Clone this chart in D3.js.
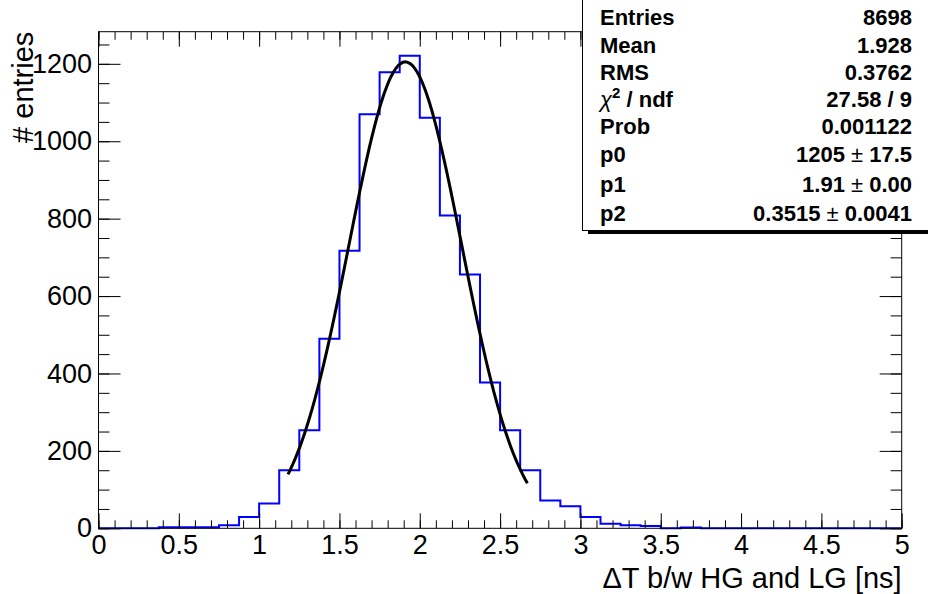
<!DOCTYPE html>
<html>
<head>
<meta charset="utf-8">
<script src="https://cdn.jsdelivr.net/npm/d3@7"></script>
<style>
body { margin: 0; background: #fff; }
svg { display: block; }
text { font-family: "Liberation Sans", Arial, Helvetica, sans-serif; }
</style>
</head>
<body>
<div id="chart"></div>
<script>

// histogram: 40 bins of 0.125 ns between 0 and 5
var binLow = 0, binWidth = 0.125;
var counts = [0, 0, 0, 3, 3, 3, 8, 29, 64, 150,
              253, 490, 717, 1070, 1178, 1221, 1061, 808, 656, 377,
              253, 150, 72, 57, 29, 12, 8, 6, 0, 2,
              0, 0, 0, 0, 0, 0, 0, 0, 0, 0];

// gaussian fit, parameters as printed in the stats box
var fitP0 = 1205, fitP1 = 1.91, fitP2 = 0.3515;
var fitRange = [1.18, 2.67];

// tick labels
var xTicks = [0, 0.5, 1, 1.5, 2, 2.5, 3, 3.5, 4, 4.5, 5];
var yTicks = [0, 200, 400, 600, 800, 1000, 1200];

// stats box
var statLabels = ["Entries", "Mean", "RMS", "chi2", "Prob", "p0", "p1", "p2"];
var statValues = ["8698", "1.928", "0.3762", "27.58 / 9", "0.001122", "1205 ± 17.5", "1.91 ± 0.00", "0.3515 ± 0.0041"];

var width = 928, height = 594;
var frame = {left: 98.5, right: 901.7, top: 31.7, bottom: 528.3};

var svg = d3.select("#chart").append("svg")
    .attr("width", width)
    .attr("height", height);

var x = d3.scaleLinear().domain([0, 5]).range([frame.left, frame.right]);
var y = d3.scaleLinear().domain([0, 1283]).range([frame.bottom, frame.top]);

// histogram outline
var step = d3.path();
step.moveTo(x(binLow), y(0));
counts.forEach(function(c, i) {
  step.lineTo(x(binLow + i * binWidth), y(c));
  step.lineTo(x(binLow + (i + 1) * binWidth), y(c));
});
step.lineTo(x(binLow + counts.length * binWidth), y(0));

svg.append("path")
    .attr("d", step.toString())
    .attr("fill", "none")
    .attr("stroke", "#0000ff")
    .attr("stroke-width", 2);

// fit curve
var fitX = d3.range(0, 101).map(function(i) { return fitRange[0] + (fitRange[1] - fitRange[0]) * i / 100; });
var fitLine = d3.line()
    .x(function(d) { return x(d); })
    .y(function(d) { return y(fitP0 * Math.exp(-0.5 * Math.pow((d - fitP1) / fitP2, 2))); });

svg.append("path")
    .datum(fitX)
    .attr("d", fitLine)
    .attr("fill", "none")
    .attr("stroke", "#000")
    .attr("stroke-width", 3);

// frame
svg.append("rect")
    .attr("x", frame.left)
    .attr("y", frame.top)
    .attr("width", frame.right - frame.left)
    .attr("height", frame.bottom - frame.top)
    .attr("fill", "none")
    .attr("stroke", "#000")
    .attr("stroke-width", 1);

var xMinor = d3.range(0, 51).map(function(i) { return i / 10; });
var yMinor = d3.range(0, 26).map(function(i) { return i * 50; });

function tickAxis(axis, scale, values, size, pos, labels, pad) {
  var a = axis(scale).tickValues(values).tickSizeInner(size).tickSizeOuter(0);
  if (labels) a.tickPadding(pad).tickFormat(d3.format(""));
  else a.tickFormat("");
  var g = svg.append("g").attr("transform", pos).call(a);
  g.select(".domain").remove();
  g.selectAll("line").attr("stroke", "#000");
  return g;
}

// bottom and top
var gx = tickAxis(d3.axisBottom, x, xTicks, -15, "translate(0," + frame.bottom + ")", true, 7);
tickAxis(d3.axisBottom, x, xMinor, -8, "translate(0," + frame.bottom + ")", false);
tickAxis(d3.axisTop, x, xTicks, -15, "translate(0," + frame.top + ")", false);
tickAxis(d3.axisTop, x, xMinor, -8, "translate(0," + frame.top + ")", false);

// left and right
var gy = tickAxis(d3.axisLeft, y, yTicks, -22, "translate(" + frame.left + ",0)", true, 6.5);
tickAxis(d3.axisLeft, y, yMinor, -11, "translate(" + frame.left + ",0)", false);
tickAxis(d3.axisRight, y, yTicks, -22, "translate(" + frame.right + ",0)", false);
tickAxis(d3.axisRight, y, yMinor, -11, "translate(" + frame.right + ",0)", false);

gx.selectAll("text").attr("font-size", 27).attr("fill", "#000")
    .style("font-family", "'Liberation Sans', Arial, sans-serif");
gy.selectAll("text").attr("font-size", 27).attr("fill", "#000")
    .style("font-family", "'Liberation Sans', Arial, sans-serif");

// axis titles
svg.append("text")
    .attr("x", frame.right)
    .attr("y", 588)
    .attr("text-anchor", "end")
    .attr("font-size", 29)
    .text("ΔT b/w HG and LG [ns]");

svg.append("text")
    .attr("transform", "translate(33," + frame.top + ") rotate(-90)")
    .attr("text-anchor", "end")
    .attr("font-size", 29)
    .text("# entries");

// stats box
var box = {left: 582, bottom: 230};
svg.append("rect")
    .attr("x", box.left + 6)
    .attr("y", box.bottom)
    .attr("width", width)
    .attr("height", 4)
    .attr("fill", "#000");
svg.append("rect")
    .attr("x", box.left + 0.5)
    .attr("y", -2)
    .attr("width", width)
    .attr("height", box.bottom + 2.5)
    .attr("fill", "#fff")
    .attr("stroke", "#000")
    .attr("stroke-width", 1);

var rowBase = [25, 53, 80, 107, 134, 162, 192, 221];

statLabels.forEach(function(lab, i) {
  var t = svg.append("text")
      .attr("x", 600)
      .attr("y", rowBase[i])
      .attr("font-size", 22)
      .attr("font-weight", "bold");
  if (lab === "chi2") {
    t.append("tspan").attr("font-weight", "normal").attr("font-style", "italic").text("χ");
    t.append("tspan").attr("font-size", 15).attr("dy", -9).text("2");
    t.append("tspan").attr("dy", 9).text(" / ndf");
  } else {
    t.text(lab);
  }
});

statValues.forEach(function(val, i) {
  var t = svg.append("text")
      .attr("x", 912)
      .attr("y", rowBase[i])
      .attr("text-anchor", "end")
      .attr("font-size", 22)
      .attr("font-weight", "bold");
  var parts = val.split("±");
  if (parts.length === 2) {
    t.append("tspan").text(parts[0]);
    t.append("tspan").attr("font-weight", "normal").text("±");
    t.append("tspan").text(parts[1]);
  } else {
    t.text(val);
  }
});

</script>
</body>
</html>
